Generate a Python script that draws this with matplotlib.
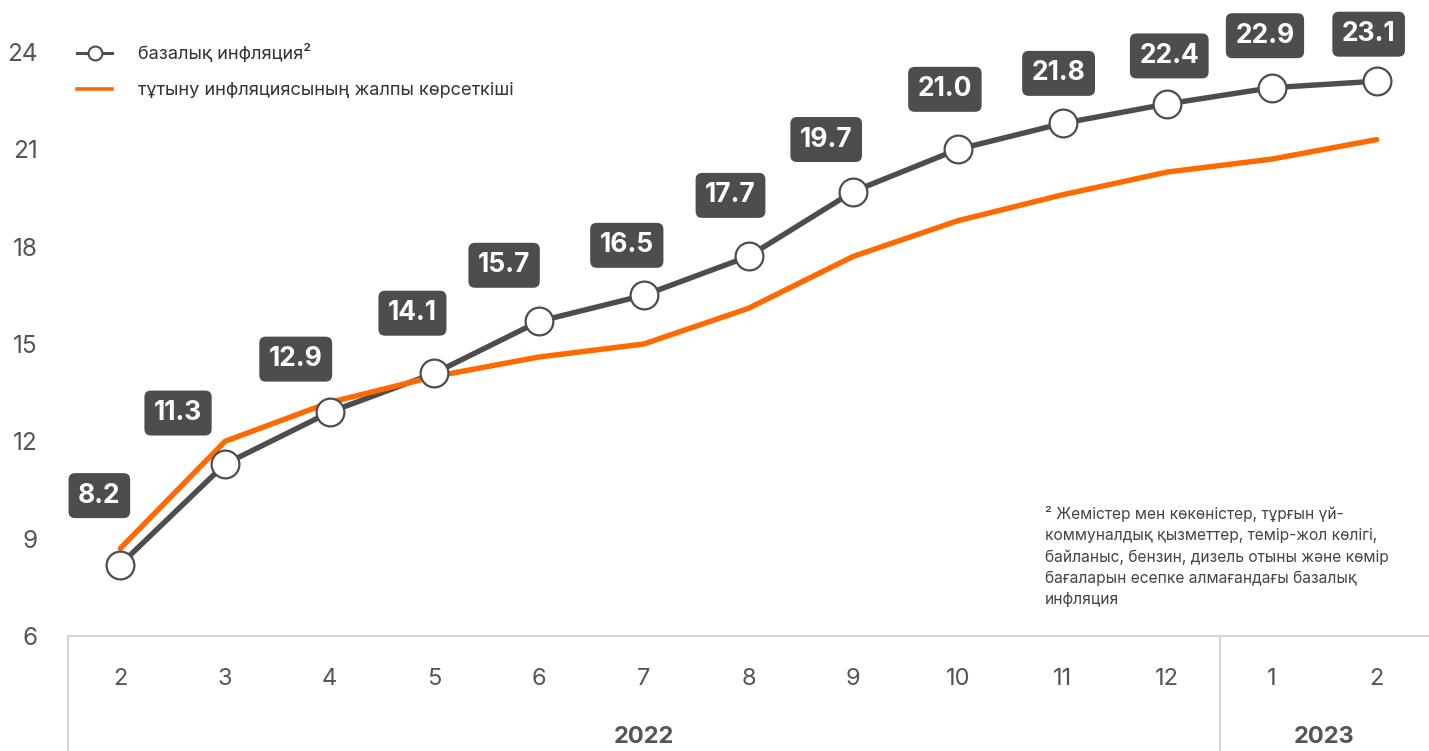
import matplotlib.pyplot as plt
from matplotlib.lines import Line2D
from matplotlib.transforms import blended_transform_factory

plt.rcParams['font.family'] = ['Inter', 'DejaVu Sans']

# months: Feb 2022 .. Feb 2023
months = ['2', '3', '4', '5', '6', '7', '8', '9', '10', '11', '12', '1', '2']
years = ['2022', '2023']
core = [8.2, 11.3, 12.9, 14.1, 15.7, 16.5, 17.7, 19.7, 21.0, 21.8, 22.4, 22.9, 23.1]
headline = [8.7, 12.0, 13.2, 14.0, 14.6, 15.0, 16.1, 17.7, 18.8, 19.6, 20.3, 20.7, 21.3]
yticks = [6, 9, 12, 15, 18, 21, 24]

# label box offsets from each point, in pixels
label_offsets = [(-21, 69), (-47, 51), (-34, 53), (-22, 60), (-35, 56), (-17, 50),
                 (-18, 61), (-27, 52), (-13, 60), (-4, 50), (2, 48), (-7, 52), (-8, 47)]

GRAY = '#4d4d4d'
ORANGE = '#ff6a00'
TXT = '#555555'
RULE = '#d6d6d6'

W, H = 1429, 751
fig = plt.figure(figsize=(W / 100, H / 100), dpi=100)
ax = fig.add_axes([68 / W, 115 / H, 1 - 68 / W, (636 - 52) / H])

x = list(range(len(months)))
ax.plot(x, core, color=GRAY, lw=3.9, zorder=2, solid_capstyle='round')
ax.plot(x, headline, color=ORANGE, lw=3.9, zorder=3, solid_capstyle='round')
ax.plot(x, core, ls='none', marker='o', ms=20, mfc='white', mec=GRAY, mew=1.6,
        zorder=4, clip_on=False)

for xi, v, (dx, dy) in zip(x, core, label_offsets):
    ax.annotate(f'{v:.1f}', (xi, v), xytext=(dx, dy), textcoords='offset pixels',
                ha='center', va='center', fontsize=19, fontweight='bold', color='white',
                bbox=dict(boxstyle='round,pad=0.36,rounding_size=0.25', fc=GRAY, ec='none'),
                zorder=5, annotation_clip=False)

ax.set_xlim(-0.5, len(months) - 0.5)
ax.set_ylim(6, 24)
ax.set_yticks(yticks)
ax.set_yticklabels([str(t) for t in yticks])
ax.set_xticks(x)
ax.set_xticklabels(months)
ax.tick_params(axis='y', length=0, pad=22, labelsize=17.5, labelcolor=TXT)
ax.tick_params(axis='x', length=0, pad=23, labelsize=17, labelcolor=TXT)

for s in ['left', 'right', 'top']:
    ax.spines[s].set_visible(False)
ax.spines['bottom'].set_color(RULE)
ax.spines['bottom'].set_linewidth(1.5)

# table rules under the axis
tr = blended_transform_factory(ax.transData, ax.transAxes)
bottom = -115 / (636 - 52)
for xv in [-0.5, 10.5]:
    ax.plot([xv, xv], [0, bottom], transform=tr, color=RULE, lw=1.5, clip_on=False)

ax.text(5, -101 / 584, years[0], transform=tr, ha='center', va='center',
        fontsize=17, fontweight='bold', color=TXT)
ax.text(11.5, -101 / 584, years[1], transform=tr, ha='center', va='center',
        fontsize=17, fontweight='bold', color=TXT)

handles = [
    Line2D([], [], color=GRAY, lw=2.2, marker='o', ms=10, mfc='white', mec=GRAY, mew=1.5),
    Line2D([], [], color=ORANGE, lw=2.6),
]
ax.legend(handles, ['базалық инфляция²', 'тұтыну инфляциясының жалпы көрсеткіші'],
          loc='upper left', bbox_to_anchor=(70 / W, 1 - 37 / H), bbox_transform=fig.transFigure,
          frameon=False, fontsize=13.1, labelcolor='#333333', handlelength=1.9,
          handletextpad=1.45, labelspacing=1.05, borderaxespad=0)

note = ('² Жемістер мен көкөністер, тұрғын үй-\n'
        'коммуналдық қызметтер, темір-жол көлігі,\n'
        'байланыс, бензин, дизель отыны және көмір\n'
        'бағаларын есепке алмағандағы базалық\n'
        'инфляция')
fig.text(1045 / W, 1 - 506 / H, note, ha='left', va='top', fontsize=11.2,
         color='#444444', linespacing=1.5)

fig.savefig('out.png', dpi=100)
